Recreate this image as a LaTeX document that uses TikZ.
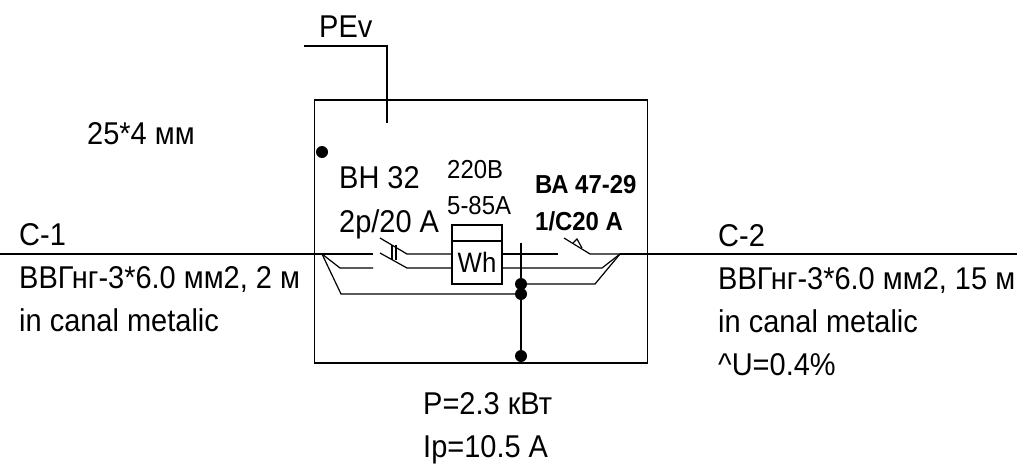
\documentclass[tikz,border=0pt]{standalone}
\usepackage{fontspec}
\setmainfont[FakeStretch=0.92]{Liberation Sans}
\usepackage{tikz}
\usetikzlibrary{positioning}

\tikzset{
  label/.style={anchor=base west, inner sep=0pt, font=\fontsize{31.5}{32}\selectfont},
  small/.style={anchor=base west, inner sep=0pt, font=\fontsize{26}{26}\selectfont},
  bold/.style={anchor=base west, inner sep=0pt, font=\fontsize{26}{26}\selectfont\bfseries},
  wire/.style={draw=black, line width=1.2pt},
  heavy/.style={draw=black, line width=1.6pt},
  dot/.style={circle, fill=black, inner sep=0pt, minimum size=12pt},
}

\begin{document}
\begin{tikzpicture}[x=1pt, y=-1pt]
\useasboundingbox (0,0) rectangle (1017,466);
% panel
\node [rectangle, draw=black, line width=1.3pt, minimum width=333.5pt, minimum height=263pt, inner sep=0pt] (panel) at (481,231.5) {};
\node [dot] (D0) at (322,152) {};
\node [dot] (D1) at (521,284) {};
\node [dot] (D2) at (521,294) {};
\node [dot] (D3) at (521,356) {};
% meter
\node [rectangle, draw=black, line width=1.5pt, minimum width=50pt, minimum height=43pt, inner sep=0pt, font=\fontsize{28}{28}\selectfont] (Wh) at (477,262.5) {Wh};
\node [rectangle, draw=black, line width=1.5pt, minimum width=50pt, minimum height=16pt, inner sep=0pt] (WhTop) at (477,233) {};
% PE conductor
\coordinate (PEa) at (304,46);
\coordinate (PEb) at (387,46);
\coordinate (PEc) at (387,123);
\draw [wire] (PEa) -- (PEb) -- (PEc);
% incoming feeder
\coordinate (In) at (0,254);
\coordinate (Fork) at (322,254);
\coordinate (La) at (373,254);
\coordinate (Na) at (340,268);
\coordinate (Nb) at (373,268);
\coordinate (Ea) at (341,294);
\draw [heavy] (In) -- (Fork) -- (La);
\draw [wire] (Fork) -- (Na) -- (Nb);
\draw [wire] (Fork) -- (Ea) -- (D2);
% switch BH 32
\coordinate (S1a) at (380,238);
\coordinate (S1b) at (407,254);
\coordinate (S2a) at (380,253);
\coordinate (S2b) at (407,268);
\coordinate (Ta) at (392,245);
\coordinate (Tb) at (392,260);
\coordinate (Tc) at (396,245);
\coordinate (Td) at (396,260);
\draw [wire] (S1a) -- (S1b) -- (Wh.west |- S1b);
\draw [wire] (S2a) -- (S2b) -- (Wh.west |- S2b);
\draw [wire] (Ta) -- (Tb);
\draw [wire] (Tc) -- (Td);
% outgoing
\coordinate (Lb) at (558,254);
\coordinate (Nc) at (602,268);
\coordinate (Fork2) at (620,254);
\coordinate (Eb) at (595,284);
\coordinate (S3a) at (564,238);
\coordinate (S3b) at (590,254);
\coordinate (Tk1) at (573,243);
\coordinate (Tk2) at (577,239);
\coordinate (Tk3) at (582,248);
\coordinate (Out) at (1017,254);
\draw [wire] (Wh.east |- Lb) -- (Lb);
\draw [wire] (Wh.east |- Nc) -- (Nc) -- (Fork2);
\draw [wire] (D1) -- (Eb) -- (Fork2);
\draw [wire] (S3a) -- (S3b) -- (Fork2);
\draw [wire] (Tk1) -- (Tk2) -- (Tk3);
\draw [heavy] (Fork2) -- (Out);
% neutral bar
\coordinate (Vtop) at (521,243);
\draw [wire] (Vtop) -- (D3);
% texts
\node [label] (PEv) at (319,37) {PEv};
\node [label] (Bar) at (87,144) {25*4 мм};
\node [label] (QF1) at (339,188) {ВН 32};
\node [label] (QF1b) at (339,232) {2p/20 A};
\node [small] (Ua) at (447,178) {220В};
\node [small] (Ub) at (447,214) {5-85A};
\node [bold] (QF2) at (535,193) {ВА 47-29};
\node [bold] (QF2b) at (535,230) {1/C20 A};
\node [label] (C1) at (19,245) {С-1};
\node [label] (C1a) at (19,288) {ВВГнг-3*6.0 мм2, 2 м};
\node [label] (C1b) at (19,331) {in canal metalic};
\node [label] (C2) at (718,246) {С-2};
\node [label] (C2a) at (718,289) {ВВГнг-3*6.0 мм2, 15 м};
\node [label] (C2b) at (718,332) {in canal metalic};
\node [label] (C2c) at (718,375) {\^{}U=0.4\%};
\node [label] (P) at (423,414) {P=2.3 кВт};
\node [label] (Ip) at (423,457) {Ip=10.5 A};
\end{tikzpicture}
\end{document}
